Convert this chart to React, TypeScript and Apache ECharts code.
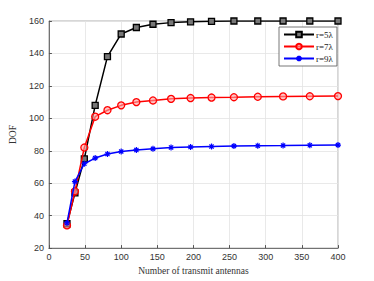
import React, { useEffect, useRef } from "react";
import * as echarts from "echarts";

const antennas = [25, 36, 49, 64, 81, 100, 121, 144, 169, 196, 225, 256, 289, 324, 361, 400];
const dofR5 = [35, 54, 75, 108, 138, 152, 156, 158, 159, 159.5, 159.8, 160, 160, 160, 160, 160];
const dofR7 = [34, 55, 82, 101, 105, 108, 110, 111, 112, 112.5, 112.8, 113, 113.3, 113.5, 113.6, 113.7];
const dofR9 = [35.5, 61, 72, 75.5, 78, 79.5, 80.5, 81.2, 82, 82.3, 82.6, 82.9, 83.1, 83.2, 83.4, 83.5];
const seriesNames = ["r=5λ", "r=7λ", "r=9λ"];

const asterisk = "path://M0,5L10,5M5,0L5,10M1.5,1.5L8.5,8.5M8.5,1.5L1.5,8.5";

export default function App() {
  const ref = useRef<HTMLDivElement>(null);
  useEffect(() => {
    const chart = echarts.init(ref.current!, null, { renderer: "svg" });
    const mk = (arr: number[]) => antennas.map((x, i) => [x, arr[i]]);
    const serif = "'Liberation Serif', 'DejaVu Serif', serif";
    const sans = "'Liberation Sans', Arial, sans-serif";
    chart.setOption({
      animation: false,
      backgroundColor: "#fff",
      grid: { left: 48, right: 36, top: 21, bottom: 31, show: true, borderColor: "#9a9a9a", borderWidth: 0.8 },
      legend: {
        left: 279,
        top: 27,
        orient: "vertical",
        itemWidth: 30,
        itemHeight: 7,
        itemGap: 3,
        padding: [3, 4, 3, 4],
        backgroundColor: "#fff",
        borderColor: "#555",
        borderWidth: 0.8,
        borderRadius: 0,
        textStyle: { fontFamily: serif, fontSize: 9, color: "#222", padding: [0, 0, 0, -3] },
        data: seriesNames,
      },
      xAxis: {
        type: "value",
        min: 0,
        max: 400,
        interval: 50,
        name: "Number of transmit antennas",
        nameLocation: "middle",
        nameGap: 14,
        nameTextStyle: { fontFamily: serif, fontSize: 9.5, color: "#333" },
        axisLine: { onZero: false, lineStyle: { color: "#555", width: 0.8 } },
        axisTick: { inside: true, length: 3, lineStyle: { color: "#555" } },
        axisLabel: { fontFamily: sans, fontSize: 9, color: "#333", margin: 4 },
        splitLine: { show: true, lineStyle: { color: "#e3e3e3", width: 0.8 } },
      },
      yAxis: {
        type: "value",
        min: 20,
        max: 160,
        interval: 20,
        name: "DOF",
        nameLocation: "middle",
        nameGap: 26,
        nameTextStyle: { fontFamily: serif, fontSize: 9.5, color: "#333" },
        axisLine: { show: true, onZero: false, lineStyle: { color: "#555", width: 0.8 } },
        axisTick: { show: true, inside: true, length: 3, lineStyle: { color: "#555" } },
        axisLabel: { fontFamily: sans, fontSize: 9, color: "#333", margin: 5 },
        splitLine: { show: true, lineStyle: { color: "#e3e3e3", width: 0.8 } },
      },
      series: [
        {
          name: seriesNames[0],
          type: "line",
          data: mk(dofR5),
          symbol: "rect",
          symbolSize: 6,
          lineStyle: { color: "#000", width: 1.5 },
          itemStyle: { color: "#777", borderColor: "#000", borderWidth: 1.3 },
          z: 3,
        },
        {
          name: seriesNames[1],
          type: "line",
          data: mk(dofR7),
          symbol: "circle",
          symbolSize: 7,
          lineStyle: { color: "#ff0000", width: 1.5 },
          itemStyle: { color: "rgba(255,160,160,0.6)", borderColor: "#ff0000", borderWidth: 1.3 },
          z: 4,
        },
        {
          name: seriesNames[2],
          type: "line",
          data: mk(dofR9),
          symbol: asterisk,
          symbolSize: 6,
          lineStyle: { color: "#0000ff", width: 1.5 },
          itemStyle: { color: "#0000ff", borderColor: "#0000ff", borderWidth: 1.2 },
          z: 5,
        },
      ],
    });
    return () => chart.dispose();
  }, []);
  return <div ref={ref} style={{ position: "fixed", left: 0, top: 0, width: 374, height: 281 }} />;
}
